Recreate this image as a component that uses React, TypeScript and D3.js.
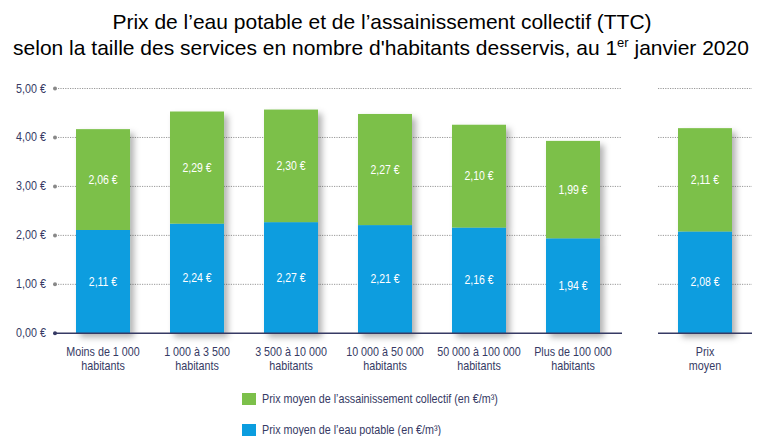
import React from "react";
import * as d3 from "d3";

const categories = [
  ["Moins de 1 000", "habitants"],
  ["1 000 à 3 500", "habitants"],
  ["3 500 à 10 000", "habitants"],
  ["10 000 à 50 000", "habitants"],
  ["50 000 à 100 000", "habitants"],
  ["Plus de 100 000", "habitants"],
];
const eauPotable = [2.11, 2.24, 2.27, 2.21, 2.16, 1.94];
const assainissement = [2.06, 2.29, 2.3, 2.27, 2.1, 1.99];
const moyenLabel = ["Prix", "moyen"];
const moyenEau = 2.08;
const moyenAssain = 2.11;
const yTicks = [0, 1, 2, 3, 4, 5];

const GREEN = "#7cc04a";
const BLUE = "#0b9ddf";
const NAVY = "#363a64";
const FONT = "'Liberation Sans', Arial, sans-serif";
const SX = 0.84;

const fmt = (v: number) => v.toFixed(2).replace(".", ",") + " €";

function T(props: { x: number; y: number; size: number; fill: string; anchor?: string; children: React.ReactNode }) {
  return (
    <g transform={`translate(${props.x},${props.y}) scale(${SX},1)`}>
      <text x={0} y={0} textAnchor={props.anchor || "start"} fill={props.fill} fontSize={props.size}>
        {props.children}
      </text>
    </g>
  );
}

export default function App() {
  const y = d3.scaleLinear().domain([0, 5]).range([333.3, 88.5]);
  const idx = categories.map((_, i) => String(i));
  const x = d3.scaleBand().domain(idx).range([56, 620]).paddingInner(0.4255).paddingOuter(0.2128);
  const x2 = d3.scaleBand().domain(["m"]).range([658, 752]).paddingInner(0.4255).paddingOuter(0.2128);
  const bw = x.bandwidth();

  const bar = (key: string, x0: number, w: number, eau: number, ass: number, labels: string[]) => {
    const yb = y(0);
    const ye = y(eau);
    const yt = y(eau + ass);
    const cx = x0 + w / 2;
    return (
      <g key={key}>
        <g filter="url(#shadow)">
          <rect x={x0} y={ye} width={w} height={yb - ye} fill={BLUE} />
          <rect x={x0} y={yt} width={w} height={ye - yt} fill={GREEN} />
        </g>
        <T x={cx} y={(yb + ye) / 2 + 4} anchor="middle" fill="#fff" size={12.5}>
          {fmt(eau)}
        </T>
        <T x={cx} y={(ye + yt) / 2 + 4} anchor="middle" fill="#fff" size={12.5}>
          {fmt(ass)}
        </T>
        <T x={cx} y={356} anchor="middle" fill={NAVY} size={12.8}>
          {labels[0]}
        </T>
        <T x={cx} y={370} anchor="middle" fill={NAVY} size={12.8}>
          {labels[1]}
        </T>
      </g>
    );
  };

  return (
    <svg width={759} height={436} style={{ position: "absolute", left: 0, top: 0 }} fontFamily={FONT}>
      <defs>
        <filter id="shadow" x="-20%" y="-10%" width="150%" height="130%">
          <feDropShadow dx={4} dy={4} stdDeviation={3} floodColor="#000" floodOpacity={0.3} />
        </filter>
      </defs>
      <rect width={759} height={436} fill="#fff" />
      <text x={382} y={29} textAnchor="middle" fontSize={21} fill="#000">
        Prix de l’eau potable et de l’assainissement collectif (TTC)
      </text>
      <text x={381} y={55} textAnchor="middle" fontSize={21} fill="#000">
        selon la taille des services en nombre d'habitants desservis, au 1
        <tspan dy={-8} fontSize={13}>er</tspan>
        <tspan dy={8}> janvier 2020</tspan>
      </text>

      {yTicks.map((t) => (
        <g key={t}>
          <T x={46} y={y(t) + 4} anchor="end" fill={NAVY} size={12.8}>
            {fmt(t)}
          </T>
          {t > 0 && (
            <>
              <line x1={58} x2={621} y1={y(t)} y2={y(t)} stroke="#999" strokeWidth={1} strokeDasharray="1.2,1.2" />
              <line x1={658} x2={752} y1={y(t)} y2={y(t)} stroke="#999" strokeWidth={1} strokeDasharray="1.2,1.2" />
            </>
          )}
          <circle cx={55} cy={y(t)} r={2} fill={t === 0 ? NAVY : "#888"} />
        </g>
      ))}

      {categories.map((c, i) => bar("b" + i, x(String(i))!, bw, eauPotable[i], assainissement[i], c))}
      {bar("m", x2("m")!, x2.bandwidth(), moyenEau, moyenAssain, moyenLabel)}

      <line x1={55} x2={622} y1={y(0)} y2={y(0)} stroke={NAVY} strokeWidth={1.5} />
      <line x1={658} x2={752} y1={y(0)} y2={y(0)} stroke={NAVY} strokeWidth={1.5} />

      <rect x={242} y={393} width={14} height={12} fill={GREEN} />
      <T x={262} y={403} fill={NAVY} size={12.8}>
        Prix moyen de l’assainissement collectif (en €/m³)
      </T>
      <rect x={242} y={424} width={14} height={12} fill={BLUE} />
      <T x={262} y={434} fill={NAVY} size={12.8}>
        Prix moyen de l’eau potable (en €/m³)
      </T>
    </svg>
  );
}
